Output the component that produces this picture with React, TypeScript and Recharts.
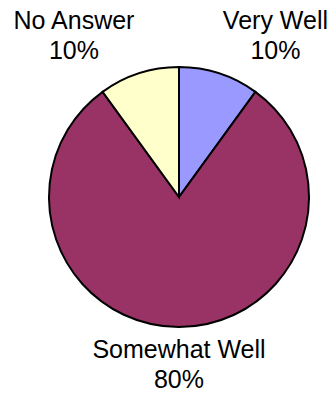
import React from 'react';
import { PieChart, Pie, Cell } from 'recharts';

const categories = ['Very Well', 'Somewhat Well', 'No Answer'];
const values = [10, 80, 10];
const colors = ['#9999FF', '#993366', '#FFFFCC'];

const data = categories.map((name, i) => ({ name, value: values[i] }));

const FONT_FAMILY = "'Liberation Sans', Arial, sans-serif";
const FONT_SIZE = 25;
const LINE_H = 29.5;

let ctx: CanvasRenderingContext2D | null = null;
function measure(text: string): number {
  if (!ctx) {
    const c = document.createElement('canvas');
    ctx = c.getContext('2d');
  }
  if (!ctx) return text.length * FONT_SIZE * 0.55;
  ctx.font = `${FONT_SIZE}px ${FONT_FAMILY}`;
  return ctx.measureText(text).width;
}

const renderLabel = (props: any) => {
  const { cx, cy, midAngle, outerRadius, percent } = props;
  const name = props.name ?? props.payload?.name;
  const RAD = Math.PI / 180;
  const r = outerRadius + 12;
  const c = Math.cos(midAngle * RAD);
  const s = Math.sin(midAngle * RAD);
  const px = cx + r * c;
  const py = cy - r * s;
  const lines = [String(name), `${Math.round(percent * 100)}%`];
  const w = Math.max(...lines.map(measure));
  let centerX = px;
  if (c > 0.1) centerX = px + w / 2;
  else if (c < -0.1) centerX = px - w / 2;
  let first: number;
  if (s > 0) first = py - 3 - LINE_H;
  else first = py + 19;
  return (
    <text
      x={centerX}
      y={first}
      textAnchor="middle"
      fontSize={FONT_SIZE}
      fontFamily={FONT_FAMILY}
      fill="#000"
    >
      <tspan x={centerX} y={first}>{lines[0]}</tspan>
      <tspan x={centerX} y={first + LINE_H}>{lines[1]}</tspan>
    </text>
  );
};

export default function App() {
  return (
    <div style={{ position: 'absolute', left: 0, top: 0, width: 334, height: 394, background: '#fff' }}>
      <PieChart width={334} height={394} margin={{ top: 0, right: 0, bottom: 0, left: 0 }}>
        <Pie
          data={data}
          dataKey="value"
          nameKey="name"
          cx={179}
          cy={197}
          outerRadius={130}
          startAngle={90}
          endAngle={-270}
          stroke="#000"
          strokeWidth={2}
          label={renderLabel}
          labelLine={false}
          isAnimationActive={false}
        >
          {data.map((d, i) => (
            <Cell key={d.name} fill={colors[i]} stroke="#000" strokeWidth={2} />
          ))}
        </Pie>
      </PieChart>
    </div>
  );
}
